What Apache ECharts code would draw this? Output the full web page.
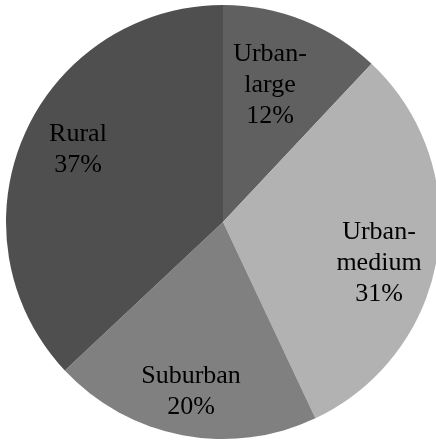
<!DOCTYPE html>
<html>
<head>
<meta charset="utf-8">
<script src="https://cdn.jsdelivr.net/npm/echarts@6/dist/echarts.min.js"></script>
<style>html,body{margin:0;padding:0;background:#fff}#c{width:436px;height:441px}</style>
</head>
<body>
<div id="c"></div>
<script>
const categories = ['Urban-large', 'Urban-medium', 'Suburban', 'Rural'];
const values = [12, 31, 20, 37];
const colors = ['#606060', '#b2b2b2', '#808080', '#4f4f4f'];

const labelPos = [[270, 85], [379, 263], [191, 392], [78, 150]];

const chart = echarts.init(document.getElementById('c'), null, {renderer: 'canvas'});
chart.setOption({
  animation: false,
  series: [{
    type: 'pie',
    center: [223, 222],
    radius: 217,
    startAngle: 90,
    clockwise: true,
    avoidLabelOverlap: false,
    data: categories.map((c, i) => ({name: c, value: values[i], itemStyle: {color: colors[i]}})),
    itemStyle: {borderWidth: 0},
    label: {
      show: true,
      position: 'inside',
      formatter: p => p.name.replace('-', '-\n') + '\n' + p.value + '%',
      fontFamily: '"Liberation Serif", "Times New Roman", serif',
      fontSize: 26,
      lineHeight: 31,
      color: '#000',
      align: 'center',
      verticalAlign: 'middle'
    },
    labelLine: {show: false},
    emphasis: {disabled: true}
  }],
});
chart.setOption({
  series: [{
    labelLayout: function (params) {
      const p = labelPos[params.dataIndex];
      return {x: p[0], y: p[1], align: 'center', verticalAlign: 'middle'};
    }
  }]
});
</script>
</body>
</html>
